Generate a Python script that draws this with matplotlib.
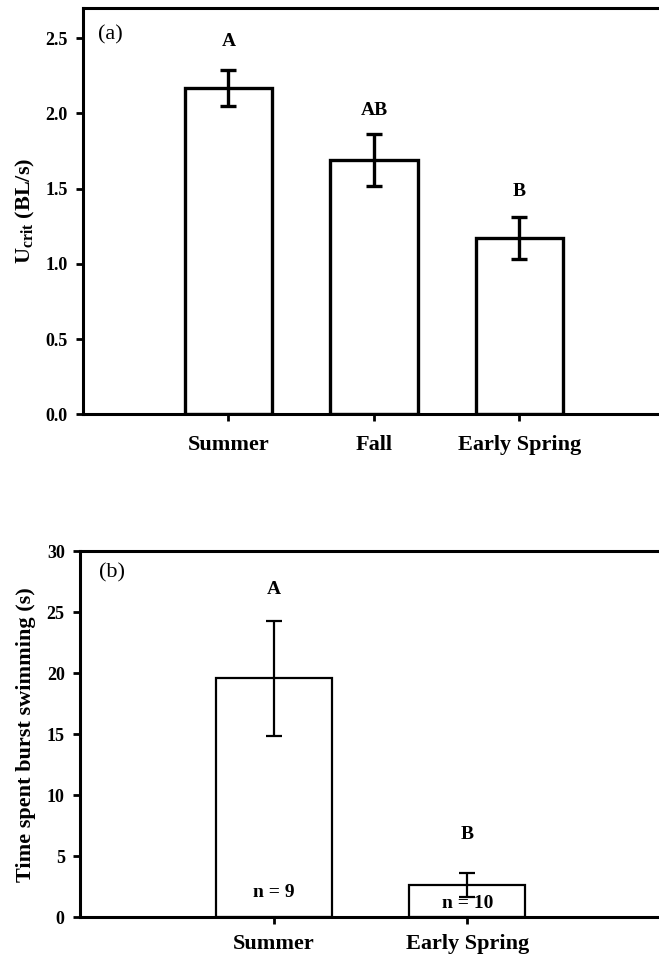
import matplotlib
matplotlib.use('Agg')
import matplotlib.pyplot as plt
import numpy as np

plt.rcParams['font.family'] = ['Liberation Serif', 'DejaVu Serif']
plt.rcParams['font.weight'] = 'bold'
plt.rcParams['mathtext.fontset'] = 'custom'
plt.rcParams['mathtext.bf'] = 'Liberation Serif:bold'
plt.rcParams['mathtext.rm'] = 'Liberation Serif'

# panel (a): critical swimming speed
seasons_a = ['Summer', 'Fall', 'Early Spring']
ucrit = [2.17, 1.69, 1.17]
ucrit_err = [0.12, 0.17, 0.14]
letters_a = ['A', 'AB', 'B']
letter_y_a = [2.48, 2.02, 1.48]

# panel (b): time spent burst swimming
seasons_b = ['Summer', 'Early Spring']
burst = [19.6, 2.65]
burst_err = [4.7, 1.0]
letters_b = ['A', 'B']
letter_y_b = [26.9, 6.8]
n_labels = ['n = 9', 'n = 10']
n_y = [2.0, 1.1]

fig = plt.figure(figsize=(6.59, 9.57), dpi=100)


def style_axis(ax, xpad):
    ax.spines['right'].set_visible(False)
    for s in ['left', 'bottom', 'top']:
        ax.spines[s].set_linewidth(2.2)
    ax.tick_params(axis='both', direction='out', width=2, length=5,
                   labelsize=13)
    ax.tick_params(axis='y', pad=6)
    ax.tick_params(axis='x', labelsize=16, pad=xpad)
    for lab in ax.get_xticklabels() + ax.get_yticklabels():
        lab.set_fontweight('bold')


# (a)
a = fig.add_axes([0.126, 0.567, 0.874, 0.4246])
xa = np.arange(len(seasons_a))
a.bar(xa, ucrit, width=0.6, color='white', edgecolor='black', linewidth=2.4)
a.errorbar(xa, ucrit, yerr=ucrit_err, fmt='none', ecolor='black',
           elinewidth=2.4, capsize=6, capthick=2.4)
for x, lab, y in zip(xa, letters_a, letter_y_a):
    a.text(x, y, lab, ha='center', va='center', fontsize=14, fontweight='bold')
a.text(0.048, 0.935, '(a)', transform=a.transAxes, fontsize=16,
       fontweight='normal', ha='center', va='center')
a.set_xlim(-1, 2.96)
a.set_ylim(0, 2.7)
a.set_yticks([0.0, 0.5, 1.0, 1.5, 2.0, 2.5])
a.set_yticklabels(['0.0', '0.5', '1.0', '1.5', '2.0', '2.5'])
a.set_xticks(xa)
a.set_xticklabels(seasons_a)
a.set_ylabel(r'U$_{\mathbf{crit}}$ (BL/s)', fontsize=16, fontweight='bold',
             labelpad=6)
style_axis(a, 10)

# (b)
b = fig.add_axes([0.1214, 0.0415, 0.8786, 0.3824])
xb = np.arange(len(seasons_b))
b.bar(xb, burst, width=0.6, color='white', edgecolor='black', linewidth=1.6)
b.errorbar(xb, burst, yerr=burst_err, fmt='none', ecolor='black',
           elinewidth=1.6, capsize=6, capthick=1.6)
for x, lab, y in zip(xb, letters_b, letter_y_b):
    b.text(x, y, lab, ha='center', va='center', fontsize=14, fontweight='bold')
for x, lab, y in zip(xb, n_labels, n_y):
    b.text(x, y, lab, ha='center', va='center', fontsize=14, fontweight='bold')
b.text(0.055, 0.94, '(b)', transform=b.transAxes, fontsize=16,
       fontweight='normal', ha='center', va='center')
b.set_xlim(-1, 1.99)
b.set_ylim(0, 30)
b.set_yticks([0, 5, 10, 15, 20, 25, 30])
b.set_xticks(xb)
b.set_xticklabels(seasons_b)
b.set_ylabel('Time spent burst swimming (s)', fontsize=16, fontweight='bold',
             labelpad=8)
style_axis(b, 7)

fig.savefig('out.png', dpi=100)
